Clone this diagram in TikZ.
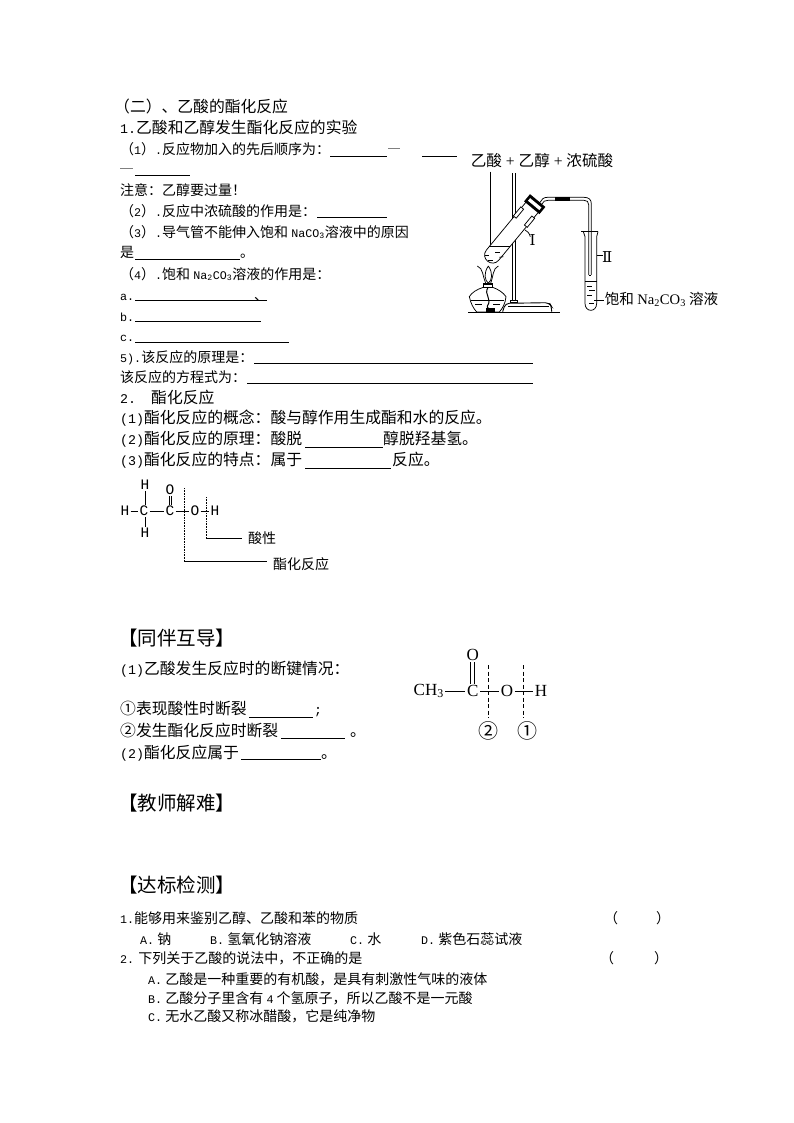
\documentclass[tikz,border=0pt]{standalone}
\usepackage{fontspec}
\setmainfont{Noto Sans CJK SC}
\newfontfamily\mm{Liberation Mono}
\newfontfamily\se{Liberation Serif}
\newfontfamily\dv{DejaVu Serif}
\newcommand{\mt}[1]{{\mm\fontsize{13.3}{14}\selectfont #1}}
\newcommand{\mts}[1]{{\mm\fontsize{11.7}{14}\selectfont #1}}
\newcommand{\st}[1]{{\se #1}}
\tikzset{
 t16/.style={anchor=base west,inner sep=0pt,font=\fontsize{15.8}{16}\selectfont},
 t14/.style={anchor=base west,inner sep=0pt,font=\fontsize{14}{14}\selectfont},
 t20/.style={anchor=base west,inner sep=0pt,font=\fontsize{19.5}{20}\selectfont},
 blank/.style={line width=0.7pt},
 atomA/.style={inner sep=1pt,font=\mm\fontsize{14.5}{14}\selectfont},
 atomB/.style={inner sep=1.5pt,font=\se\fontsize{17}{17}\selectfont},
 bond/.style={line width=0.6pt},
 app/.style={line width=0.75pt},
 dots/.style={line width=0.6pt,densely dotted},
 dash2/.style={line width=0.7pt,dash pattern=on 4pt off 2.5pt}
}
\begin{document}
\begin{tikzpicture}[x=1pt,y=-1pt]
\useasboundingbox (0,0) rectangle (794,1123);
% --- section (II)
\node[t16] (a1) at (114,112.5) {（二）、乙酸的酯化反应};
\node[t16] (a2) at (120,133.5) {\mt{1.}乙酸和乙醇发生酯化反应的实验};
\node[t14] (a3) at (120,155) {（\mts{1}）\mts{.}反应物加入的先后顺序为：};
\draw[blank] (330,156) -- (387,156);
\draw[blank,gray] (388,148) -- (400,148);
\draw[blank] (422,156) -- (457,156);
\draw[blank,gray] (120,168) -- (133,168);
\draw[blank] (135,175) -- (190,175);
\node[t14] (a4) at (120,196) {注意：乙醇要过量！};
\node[t14] (a5) at (120,217) {（\mts{2}）\mts{.}反应中浓硫酸的作用是：};
\draw[blank] (317,217) -- (387,217);
\node[t14] (a6) at (120,237) {（\mts{3}）\mts{.}导气管不能伸入饱和 \mts{NaCO\textsubscript{3}}溶液中的原因};
\node[t14] (a7) at (120,258) {是};
\draw[blank] (135,259) -- (240,259);
\node[t14] (a7b) at (240,258) {。};
\node[t14] (a8) at (120,279) {（\mts{4}）\mts{.}饱和 \mts{Na\textsubscript{2}CO\textsubscript{3}}溶液的作用是：};
\node[t14] (a9) at (120,300) {\mts{a.}};
\draw[blank] (135,300) -- (267,300);
\node[t14] (a9b) at (254,300) {、};
\node[t14] (a10) at (120,321) {\mts{b.}};
\draw[blank] (135,321) -- (261,321);
\node[t14] (a11) at (120,341.5) {\mts{c.}};
\draw[blank] (135,342) -- (289,342);
\node[t14] (a12) at (120,362) {\mts{5).}该反应的原理是：};
\draw[blank] (254,363) -- (533,363);
\node[t14] (a13) at (120,382) {该反应的方程式为：};
\draw[blank] (247,383) -- (533,383);
\node[t16] (b1) at (120,403.5) {\mt{2.}};
\node[t16] (b1b) at (151,403.5) {酯化反应};
\node[t16] (b2) at (120,423.5) {\mt{(1)}酯化反应的概念：酸与醇作用生成酯和水的反应。};
\node[t16] (b3) at (120,444.5) {\mt{(2)}酯化反应的原理：酸脱};
\draw[blank] (305,447) -- (383,447);
\node[t16] (b3b) at (383,444.5) {醇脱羟基氢。};
\node[t16] (b4) at (120,465.5) {\mt{(3)}酯化反应的特点：属于};
\draw[blank] (305,468) -- (391,468);
\node[t16] (b4b) at (392,465.5) {反应。};
% --- molecule 1
\node[atomA] (h1) at (125,511) {H};
\node[atomA] (c1) at (144,511) {C};
\node[atomA] (h2) at (145,485) {H};
\node[atomA] (h3) at (145,533) {H};
\node[atomA] (c2) at (170,511) {C};
\node[atomA] (o1) at (170,490) {O};
\node[atomA] (o2) at (195,511) {O};
\node[atomA] (h4) at (215,511) {H};
\draw[bond] (h1) -- (c1);
\draw[bond] (c1) -- (c2);
\draw[bond] (c2) -- (o2);
\draw[bond] (o2) -- (h4);
\draw[bond] (h2.south) -- (c1.north -| h2.south);
\draw[bond] (h3.north) -- (c1.south -| h3.north);
\draw[bond] ([xshift=-1.2pt]o1.south) -- ([xshift=-1.2pt]c2.north);
\draw[bond] ([xshift=1.2pt]o1.south) -- ([xshift=1.2pt]c2.north);
\coordinate (v1t) at (184,488);
\coordinate (v1b) at (184,561);
\coordinate (v2t) at (206,497);
\coordinate (v2b) at (206,538);
\node[t14] (acid) at (248,543) {酸性};
\node[t14] (ester) at (273,569) {酯化反应};
\draw[dots] (v1t) -- (v1b);
\draw[dots] (v2t) -- (v2b);
\draw[bond] (v1b) -- ([xshift=-6pt]ester.west |- v1b);
\draw[bond] (v2b) -- ([xshift=-6pt]acid.west |- v2b);
% --- peer section
\node[t20] (c0) at (118,645) {【同伴互导】};
\node[t16] (c1t) at (120,674.5) {\mt{(1)}乙酸发生反应时的断键情况：};
\node[t16] (c2t) at (120,714.5) {①表现酸性时断裂};
\draw[blank] (249,717) -- (313,717);
\node[t16] (c2b) at (314,714.5) {\mt{;}};
\node[t16] (c3t) at (120,736.5) {②发生酯化反应时断裂};
\draw[blank] (281,738) -- (345,738);
\node[t16] (c3b) at (350,736.5) {。};
\node[t16] (c4t) at (120,758.5) {\mt{(2)}酯化反应属于};
\draw[blank] (241,759) -- (321,759);
\node[t16] (c4b) at (321,758.5) {。};
% --- molecule 2
\node[atomB,anchor=west] (ch3) at (412,691) {CH\textsubscript{3}};
\node[atomB] (c3) at (472.7,691) {C};
\node[atomB] (o3) at (472.7,655) {O};
\node[atomB] (o4) at (507,691) {O};
\node[atomB] (h5) at (541,691) {H};
\draw[bond] (ch3) -- (c3);
\draw[bond] (c3) -- (o4);
\draw[bond] (o4) -- (h5);
\draw[bond] ([xshift=-2pt]o3.south) -- ([xshift=-2pt]c3.north);
\draw[bond] ([xshift=2pt]o3.south) -- ([xshift=2pt]c3.north);
\coordinate (d1t) at (488,665);
\coordinate (d1b) at (488,718);
\coordinate (d2t) at (523,665);
\coordinate (d2b) at (523,718);
\draw[dash2] (d1t) -- (d1b);
\draw[dash2] (d2t) -- (d2b);
\node[inner sep=0pt,font=\fontsize{20}{20}\selectfont] (n2) at (488,730.5) {②};
\node[inner sep=0pt,font=\fontsize{20}{20}\selectfont] (n1) at (527,730.5) {①};
% --- headers
\node[t20] (d0) at (118,810) {【教师解难】};
\node[t20] (e0) at (118,892) {【达标检测】};
% --- test
\node[t14] (e1) at (120,923) {\mts{1.}能够用来鉴别乙醇、乙酸和苯的物质};
\node[t14] (e1p) at (604,923) {（};
\node[t14] (e1q) at (656,923) {）};
\node[t14] (e2a) at (140,944) {\mts{A.} 钠};
\node[t14] (e2b) at (210,944) {\mts{B.} 氢氧化钠溶液};
\node[t14] (e2c) at (350,944) {\mts{C.} 水};
\node[t14] (e2d) at (421,944) {\mts{D.} 紫色石蕊试液};
\node[t14] (e3) at (120,963) {\mts{2.} 下列关于乙酸的说法中，不正确的是};
\node[t14] (e3p) at (600,963) {（};
\node[t14] (e3q) at (654,963) {）};
\node[t14] (e4) at (148,984) {\mts{A.} 乙酸是一种重要的有机酸，是具有刺激性气味的液体};
\node[t14] (e5) at (148,1003) {\mts{B.} 乙酸分子里含有 \mts{4} 个氢原子，所以乙酸不是一元酸};
\node[t14] (e6) at (148,1021) {\mts{C.} 无水乙酸又称冰醋酸，它是纯净物};
% --- apparatus
\begin{scope}[shift={(450,140)},x=0.33333pt,y=-0.33333pt]
 \node[t16,font=\fontsize{15.6}{16}\selectfont] (g1) at (62,80) {乙酸\st{ + }乙醇\st{ + }浓硫酸};
 \draw[app] (120,95) -- (120,318);
 % stand
 \draw[app] (188,100) -- (188,482);
 \draw[app] (197,100) -- (197,482);
 \draw[app] (182,482) rectangle (202,488);
 \draw[app,line width=0.9pt,rounded corners=4pt] (158,515) -- (166,490) -- (298,488) -- (305,500) -- (305,515);
 \draw[app] (175,498) -- (298,498);
 % base
 \draw[line width=1.3pt] (55,518) -- (330,518);
 % tube I
 \begin{scope}[shift={(128,345)},rotate=50.4]
  \draw[app,fill=white] (190,-24) -- (0,-24) .. controls (-32,-24) and (-32,24) .. (0,24) -- (190,24);
  \fill[black] (184,-30) rectangle (212,30);
  \fill[white] (193,-22) rectangle (203,22);
  \draw[app,fill=white] (130,-27) rectangle (165,-16);
  \draw[app,fill=white] (130,16) rectangle (165,27);
 \end{scope}
 \draw[app] (117.5,320) -- (179.6,320);
 \draw[app] (105,345) -- (118,345);
 \draw[app] (135,338) -- (150,338);
 \draw[app] (115,360) -- (130,360);
 \draw[app] (148,352) -- (160,350);
 % delivery tube
 \draw[app] (270,187) .. controls (275,178) and (280,172) .. (292,172) -- (402,172) .. controls (416,172) and (424,178) .. (424,192) -- (424,405);
 \draw[app] (276,192) .. controls (280,184) and (284,181) .. (294,181) -- (402,181) .. controls (411,181) and (416,185) .. (416,194) -- (416,405);
 \draw[app] (416,405) -- (424,405);
 \fill[black] (315,170) rectangle (360,183);
 % tube II
 \draw[app] (394,275) -- (445,275);
 \draw[app] (400,275) -- (405,290) -- (405,490) .. controls (405,518) and (440,518) .. (440,490) -- (440,290) -- (444,275);
 \draw[app] (405,425) -- (440,425);
 \draw[app] (412,438) -- (426,438);
 \draw[app] (418,452) -- (434,452);
 \draw[app] (412,466) -- (426,466);
 \draw[app] (418,490) -- (432,490);
 \draw[app] (440,345) -- (458,345);
 \draw[app] (432,480) -- (462,480);
 \node[inner sep=0pt,font=\dv\fontsize{15}{16}\selectfont] (g2) at (472,350) {Ⅱ};
 \node[inner sep=0pt,font=\dv\fontsize{15}{16}\selectfont] (g3) at (248,300) {Ⅰ};
 \draw[app] (225,270) .. controls (232,272) and (238,280) .. (241,290);
 \node[t16,font=\fontsize{14.6}{16}\selectfont] (g4) at (464,493) {饱和 \st{Na\textsubscript{2}CO\textsubscript{3}} 溶液};
 % flame
 \draw[app] (82,378) .. controls (100,385) and (98,410) .. (107,430);
 \draw[app] (145,378) .. controls (128,385) and (130,410) .. (122,430);
 \draw[app] (115,378) .. controls (100,400) and (104,420) .. (115,430) .. controls (126,420) and (130,400) .. (115,378);
 \draw[app] (100,430) -- (130,430);
 % lamp
 \draw[app,fill=white] (100,432) rectangle (128,442);
 \draw[app] (100,442) .. controls (80,448) and (65,458) .. (58,470) .. controls (62,490) and (70,505) .. (80,516) -- (148,516) .. controls (158,505) and (166,490) .. (168,470) .. controls (160,458) and (145,448) .. (128,442);
 \draw[app] (64,482) -- (162,482);
 \draw[app] (75,494) -- (95,494);
 \draw[app] (130,494) -- (150,494);
 \draw[line width=1pt] (114,442) .. controls (100,465) and (128,475) .. (112,498) .. controls (108,505) and (125,508) .. (132,512);
 \fill[black] (108,505) rectangle (135,515);
\end{scope}
\end{tikzpicture}
\end{document}
